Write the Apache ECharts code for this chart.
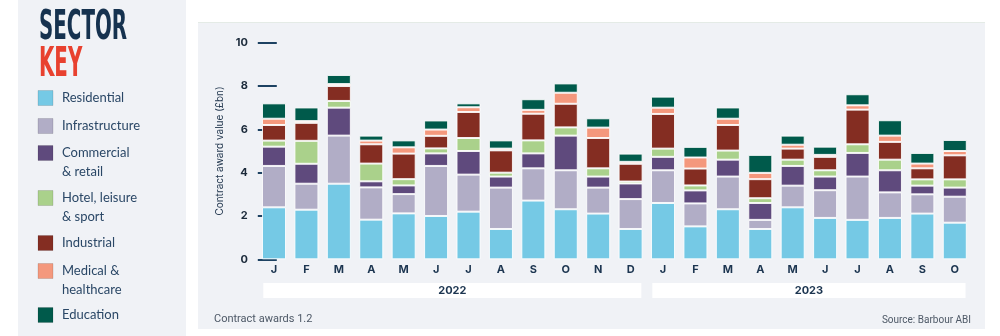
<!DOCTYPE html>
<html>
<head>
<meta charset="utf-8">
<script src="https://cdn.jsdelivr.net/npm/echarts@6/dist/echarts.min.js"></script>
<style>
html,body{margin:0;padding:0;background:#ffffff;}
#main{width:1000px;height:336px;}
</style>
</head>
<body>
<div id="main"></div>
<script>
const categories = ['J','F','M','A','M','J','J','A','S','O','N','D','J','F','M','A','M','J','J','A','S','O'];
const yearLabels = ['2022','2023'];
const yearMonthCounts = [12, 10];
const seriesNames = ['Residential','Infrastructure','Commercial & retail','Hotel, leisure & sport','Industrial','Medical & healthcare','Education'];
const keyLabels = [['Residential'],['Infrastructure'],['Commercial','& retail'],['Hotel, leisure','& sport'],['Industrial'],['Medical &','healthcare'],['Education']];
const colors = ['#75c9e5','#b1adc6','#5f4a7d','#aad18b','#842d22','#f4987d','#005a4b'];

const residential    = [2.40,2.29,3.49,1.83,2.12,2.00,2.20,1.40,2.71,2.31,2.11,1.40,2.60,1.52,2.31,1.40,2.40,1.91,1.82,1.91,2.11,1.69];
const infrastructure = [1.91,1.20,2.22,1.49,0.89,2.31,1.71,1.91,1.49,1.80,1.20,1.38,1.51,1.06,1.51,0.42,1.00,1.28,2.00,1.18,0.89,1.20];
const commercial     = [0.89,0.92,1.29,0.28,0.40,0.58,1.09,0.51,0.69,1.60,0.51,0.72,0.62,0.60,0.78,0.78,0.91,0.63,1.09,1.02,0.40,0.42];
const hotel          = [0.28,1.06,0.31,0.82,0.29,0.23,0.60,0.18,0.60,0.38,0.38,0.09,0.38,0.23,0.42,0.22,0.29,0.29,0.40,0.49,0.29,0.38];
const industrial     = [0.72,0.83,0.69,0.89,1.18,0.58,1.20,1.03,1.23,1.09,1.40,0.82,1.60,0.78,1.18,0.88,0.51,0.62,1.60,0.82,0.51,1.11];
const medical        = [0.29,0.08,0.09,0.17,0.29,0.29,0.22,0.08,0.18,0.51,0.48,0.09,0.29,0.51,0.29,0.29,0.18,0.09,0.20,0.29,0.22,0.20];
const education      = [0.71,0.63,0.42,0.23,0.32,0.42,0.18,0.38,0.49,0.43,0.43,0.38,0.51,0.49,0.52,0.83,0.42,0.38,0.51,0.71,0.49,0.51];
const seriesValues = [residential, infrastructure, commercial, hotel, industrial, medical, education];

const navy = '#1c3550';
const chart = echarts.init(document.getElementById('main'), null, {renderer: 'canvas'});

const titleFont = 'bold 35px "Liberation Sans Narrow", "DejaVu Sans Condensed", sans-serif';
const baseGraphics = [
  {type: 'rect', silent: true, z: -10, shape: {x: 18, y: 0, width: 168, height: 336}, style: {fill: '#f0f2f6'}},
  {type: 'rect', silent: true, z: -10, shape: {x: 198, y: 22, width: 787, height: 307}, style: {fill: '#f0f2f6'}},
  {type: 'rect', silent: true, z: -9, shape: {x: 198, y: 22, width: 787, height: 1}, style: {fill: '#e4ebe6'}},
  {type: 'text', x: 39, y: 8, scaleX: 0.63, scaleY: 1.16, style: {text: 'SECTOR', fill: '#16324f', font: titleFont, textVerticalAlign: 'top'}},
  {type: 'text', x: 39, y: 45, scaleX: 0.63, scaleY: 1.16, style: {text: 'KEY', fill: '#e8412f', font: titleFont, textVerticalAlign: 'top'}},
  {type: 'text', left: 214, top: 314, style: {text: 'Contract awards 1.2', fill: '#4d5866', font: '11px Roboto, sans-serif'}},
  {type: 'text', right: 29, top: 315, style: {text: 'Source: Barbour ABI', fill: '#4d5866', font: '10px Roboto, sans-serif'}}
];

// Key rows
const rowStarts = [98, 126, 153, 198, 243, 271, 315];
keyLabels.forEach((lines, i) => {
  const yc = rowStarts[i];
  baseGraphics.push({type: 'rect', silent: true, shape: {x: 38, y: yc - 7.5, width: 15, height: 15}, style: {fill: colors[i], stroke: 'rgba(0,0,0,0.12)', lineWidth: 1}});
  lines.forEach((ln, j) => {
    baseGraphics.push({type: 'text', x: 62, y: yc + j * 19, style: {text: ln, fill: '#2a4766', font: '13px Lato, "Noto Sans", sans-serif', textVerticalAlign: 'middle'}});
  });
});

const option = {
  backgroundColor: '#ffffff',
  animation: false,
  grid: {left: 257.8, right: 29, top: 42.7, bottom: 76.7, containLabel: false},
  xAxis: {
    type: 'category',
    data: categories,
    axisLine: {show: false},
    axisTick: {show: false},
    axisLabel: {color: navy, fontSize: 11, fontWeight: 'bold', fontFamily: 'Inter, sans-serif', margin: 5, interval: 0}
  },
  yAxis: {
    type: 'value',
    min: 0, max: 10, interval: 2,
    name: 'Contract award value (£bn)',
    nameLocation: 'middle',
    nameGap: 32,
    nameTextStyle: {color: '#23384f', fontSize: 10, fontFamily: 'Inter, sans-serif'},
    axisLine: {show: false},
    axisTick: {show: true, inside: true, length: 19, lineStyle: {color: '#1d4262', width: 2}},
    splitLine: {show: false},
    axisLabel: {color: '#1b2a3a', fontSize: 11, fontWeight: 'bold', fontFamily: 'Inter, sans-serif', margin: 10}
  },
  series: seriesNames.map((name, i) => ({
    name: name,
    type: 'bar',
    stack: 'total',
    barWidth: 24,
    data: seriesValues[i],
    itemStyle: {color: colors[i], borderColor: 'rgba(255,255,255,0.85)', borderWidth: 1},
    emphasis: {disabled: true}
  })),
  graphic: baseGraphics
};
chart.setOption(option);

// Year bands, positioned through the category axis scale
const c0 = chart.convertToPixel({xAxisIndex: 0}, 0);
const c1 = chart.convertToPixel({xAxisIndex: 0}, 1);
const step = c1 - c0;
let startIdx = 0;
const bandGraphics = [];
yearLabels.forEach((yl, k) => {
  const endIdx = startIdx + yearMonthCounts[k] - 1;
  const x0 = chart.convertToPixel({xAxisIndex: 0}, startIdx) - step / 2 + 5.5;
  const x1 = chart.convertToPixel({xAxisIndex: 0}, endIdx) + step / 2 - 5.5;
  bandGraphics.push({type: 'rect', silent: true, z: -5, shape: {x: x0, y: 283, width: x1 - x0, height: 15}, style: {fill: '#ffffff'}});
  bandGraphics.push({type: 'text', x: (x0 + x1) / 2, y: 290.5, style: {text: yl, fill: navy, font: 'bold 11px Inter, sans-serif', textAlign: 'center', textVerticalAlign: 'middle'}});
  startIdx = endIdx + 1;
});
chart.setOption({graphic: baseGraphics.concat(bandGraphics)});
</script>
</body>
</html>
